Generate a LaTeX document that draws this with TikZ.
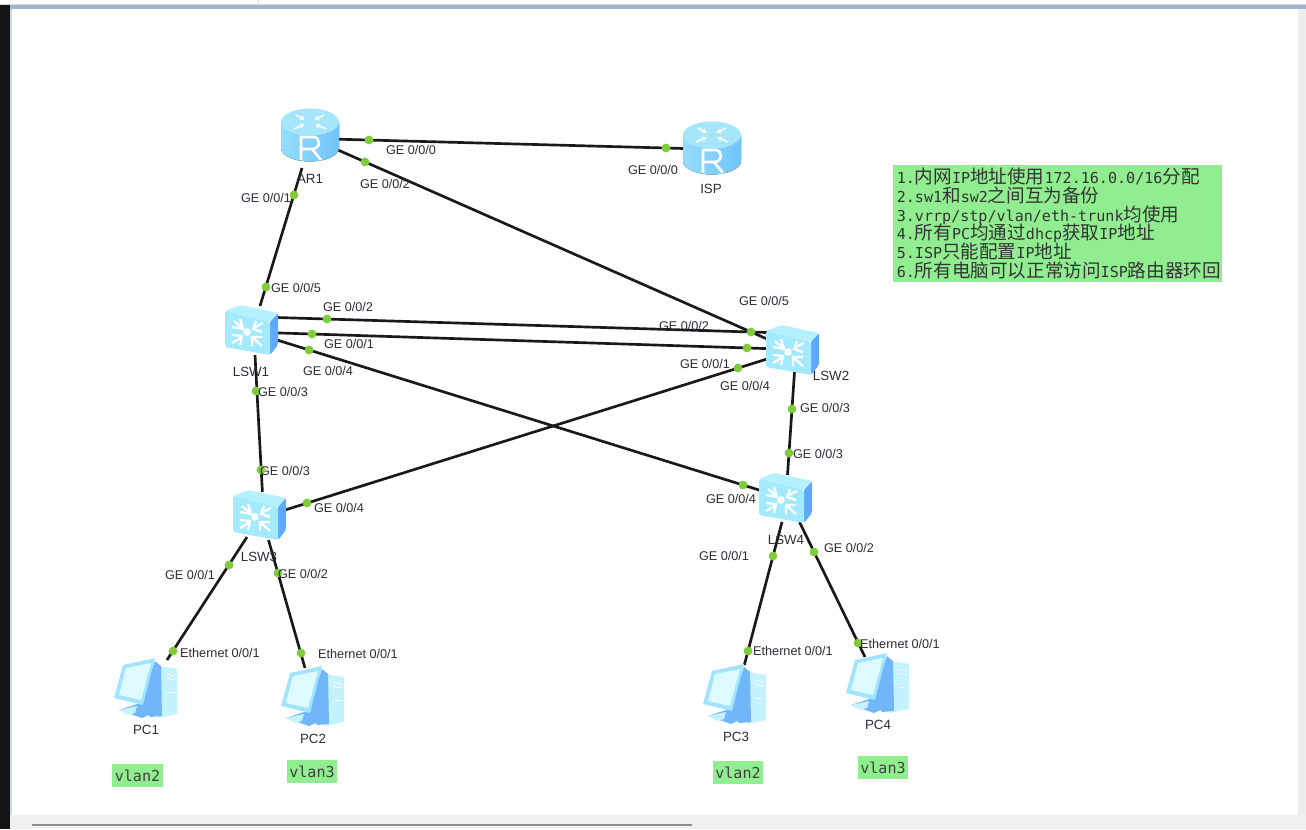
\documentclass[tikz,border=0pt]{standalone}
\usepackage{fontspec}
\setmainfont{Liberation Sans}
\newfontfamily\monof{DejaVu Sans Mono}
\newfontfamily\cjkf{Noto Sans CJK SC}
\newcommand{\zh}[1]{{\cjkf\fontsize{13.93}{14.2}\selectfont #1}}
\usetikzlibrary{arrows.meta}
\definecolor{portgreen}{HTML}{7FCB3A}
\definecolor{notegreen}{HTML}{90EE90}
\definecolor{labelink}{HTML}{2C2C36}
\definecolor{rtop}{HTML}{A6E6FB}
\definecolor{rsidea}{HTML}{93DDFC}
\definecolor{rsideb}{HTML}{72C4FA}
\definecolor{swtop}{HTML}{B5F0FF}
\definecolor{swfront}{HTML}{A4EAFF}
\definecolor{swside}{HTML}{5FA9FB}
\definecolor{pcblue}{HTML}{6FB6FB}
\definecolor{pclight}{HTML}{C4F2FF}
\definecolor{pcscreen}{HTML}{DDFBFF}
\definecolor{pcframe}{HTML}{A2E4FF}
\definecolor{bandblue}{HTML}{9DB5CF}
\tikzset{
  x=0.75pt,y=-0.75pt,
  device/.style={inner sep=0pt,minimum width=40pt,minimum height=32pt},
  link/.style={draw=black!90,line width=2pt},
  port/.style={circle,fill=portgreen,inner sep=0pt,minimum size=6.6pt},
  plabel/.style={font=\fontsize{9.5}{11}\selectfont,text=labelink,inner sep=0pt},
  dlabel/.style={font=\fontsize{10}{12}\selectfont,text=labelink,inner sep=0pt},
  vlanbox/.style={fill=notegreen,inner sep=0pt,minimum width=38pt,minimum height=17pt,font=\monof\fontsize{11.3}{12}\selectfont,text=black!75},
  notebox/.style={fill=notegreen,inner sep=0pt,minimum width=247pt,minimum height=87.5pt,text width=241pt,align=left,font=\monof\fontsize{11.3}{14.2}\selectfont,text=black!80},
  routericon/.pic={
    \fill[left color=rsidea,right color=rsideb] (-29,-13) -- (-29,13) arc[start angle=180,end angle=0,x radius=29,y radius=13.5] -- (29,-13) -- cycle;
    \fill[rtop] (0,-13) ellipse[x radius=29,y radius=13.5];
    \begin{scope}[white,line width=1.3pt,opacity=.85,-{Latex[length=3.5pt,width=4.5pt]}]
      \draw (-14,-20) -- (-5,-15);
      \draw (14,-20) -- (4,-15);
      \draw (-16,-6) -- (-5,-11);
      \draw (16,-6) -- (5,-11);
    \end{scope}
    \draw[white,line width=2pt,line join=miter] (-9,25) -- (-9,2) -- (3,2) .. controls (11,2) and (11,14) .. (2,14) -- (-9,14) (2,14) -- (11,25);
  },
  switchicon/.pic={
    \fill[swside,rounded corners=1.5pt] (18,-9) -- (26,-17) -- (26,15) -- (18,25) -- cycle;
    \fill[swtop,rounded corners=1.5pt] (-27,-19) -- (-12,-25) -- (26,-17) -- (18,-8) -- cycle;
    \fill[swfront,rounded corners=1.5pt] (-27,-19) -- (18,-8) -- (18,25) -- (-27,17) -- cycle;
    \fill[white] (-5,2) circle[radius=3.8];
    \begin{scope}[white,line width=1.7pt]
      \draw (-18,-9) -- (-10,-2) (-12,-11) -- (-9,-1) -- (-20,-3);
      \draw (11,-7) -- (1,-2) (4,-9) -- (1,-1) -- (10,2);
      \draw (-20,13) -- (-10,7) (-12,15) -- (-10,6) -- (-20,5);
      \draw (10,16) -- (1,8) (0,16) -- (0,7) -- (10,7);
    \end{scope}
  },
  pcicon/.pic={
    \fill[pclight] (12,-24) -- (31,-21) -- (31,24) -- (12,28) -- cycle;
    \fill[pcblue] (9,-29) -- (15,-24) -- (16,26) -- (4,27) -- (-6,14) -- cycle;
    \draw[white,line width=.5pt] (20,-16) -- (29,-14) (20,-12) -- (29,-10) (20,2) -- (29,3);
    \fill[pcblue] (-27,20) -- (-9,14) -- (-4,14) -- (7,23) -- (-4,28) -- cycle;
    \fill[pclight] (-27,20) -- (-9,16) -- (-11,23) -- (-18,25) -- cycle;
    \fill[pcframe] (9,-32) -- (-23,-25) -- (-32,8) -- (-3,15) -- cycle;
    \fill[pcscreen] (5,-27) -- (-20,-22) -- (-27,5) -- (-5,10) -- cycle;
  },
}
\begin{document}
\begin{tikzpicture}
\useasboundingbox (0,0) rectangle (1306,829);
% window frame
\fill[white] (0,0) rectangle (1306,829);
\fill[black!92] (0,4) rectangle (10,829);
\fill[black!14] (0,3.5) rectangle (1306,4.5);
\fill[black!14] (258,0) rectangle (259,4);
\fill[bandblue] (10,4.5) rectangle (1306,8.5);
\fill[bandblue!55] (10,8.5) rectangle (11.5,815);
\fill[black!7] (1298,9) rectangle (1306,815);
\fill[black!6] (10,815) rectangle (1306,829);
\fill[black!45] (32,823.5) rectangle (692,826);

% devices (placement)
\node[device] (AR1) at (310,135) {};
\node[device] (ISP) at (712,148) {};
\node[device] (LSW1) at (252,330) {};
\node[device] (LSW2) at (793,350) {};
\node[device] (LSW3) at (260,515) {};
\node[device] (LSW4) at (786,498) {};
\node[device] (PC1) at (146,690) {};
\node[device] (PC2) at (313,698) {};
\node[device] (PC3) at (735,696) {};
\node[device] (PC4) at (878,685) {};

% connectors
\draw[link] ([shift={(28,4.2)}]AR1.center) -- ([shift={(-28,.5)}]ISP.center);
\draw[link] ([shift={(28,15)}]AR1.center) -- ([shift={(-26,-11)}]LSW2.center);
\draw[link] ([shift={(-8,33)}]AR1.center) -- ([shift={(8,-24)}]LSW1.center);
\draw[link] ([shift={(25,-12.5)}]LSW1.center) -- ([shift={(-26,-17.5)}]LSW2.center);
\draw[link] ([shift={(25,2.9)}]LSW1.center) -- ([shift={(-26,-1.4)}]LSW2.center);
\draw[link] ([shift={(25,10)}]LSW1.center) -- ([shift={(-26,-7.7)}]LSW4.center);
\draw[link] ([shift={(3,25)}]LSW1.center) -- ([shift={(2.4,-23)}]LSW3.center);
\draw[link] ([shift={(-26,9)}]LSW2.center) -- ([shift={(25,-5)}]LSW3.center);
\draw[link] ([shift={(1.5,22)}]LSW2.center) -- ([shift={(1.5,-23)}]LSW4.center);
\draw[link] ([shift={(-13,22)}]LSW3.center) -- ([shift={(21,-30)}]PC1.center);
\draw[link] ([shift={(8.5,25)}]LSW3.center) -- ([shift={(-8,-30)}]PC2.center);
\draw[link] ([shift={(-4,24)}]LSW4.center) -- ([shift={(9.3,-31)}]PC3.center);
\draw[link] ([shift={(13.5,24)}]LSW4.center) -- ([shift={(-13,-28)}]PC4.center);

% icons
\pic at (AR1) {routericon};
\pic at (ISP) {routericon};
\pic at (LSW1) {switchicon};
\pic at (LSW2) {switchicon};
\pic at (LSW3) {switchicon};
\pic at (LSW4) {switchicon};
\pic at (PC1) {pcicon};
\pic at (PC2) {pcicon};
\pic at (PC3) {pcicon};
\pic at (PC4) {pcicon};

% port dots
\node[port] (p1) at (369,140) {};
\node[port] (p2) at (666,148) {};
\node[port] (p3) at (365,162) {};
\node[port] (p4) at (294,195) {};
\node[port] (p5) at (266,287) {};
\node[port] (p6) at (327,319) {};
\node[port] (p7) at (312,334) {};
\node[port] (p8) at (309,350) {};
\node[port] (p9) at (256,391) {};
\node[port] (p10) at (261,470) {};
\node[port] (p11) at (307,503) {};
\node[port] (p12) at (229,565) {};
\node[port] (p13) at (278,573) {};
\node[port] (p14) at (173,651) {};
\node[port] (p15) at (301,653) {};
\node[port] (p16) at (751,332) {};
\node[port] (p17) at (747,348) {};
\node[port] (p18) at (738,368) {};
\node[port] (p19) at (792,409) {};
\node[port] (p20) at (789,453) {};
\node[port] (p21) at (743,485) {};
\node[port] (p22) at (773,556) {};
\node[port] (p23) at (814,552) {};
\node[port] (p24) at (748,651) {};
\node[port] (p25) at (858,643) {};

% port labels
\node[plabel] (t1) at (411,150) {GE 0/0/0};
\node[plabel] (t2) at (653,170) {GE 0/0/0};
\node[plabel] (t3) at (385,184) {GE 0/0/2};
\node[plabel] (t4) at (266,198) {GE 0/0/1};
\node[plabel] (t5) at (296,288) {GE 0/0/5};
\node[plabel] (t6) at (348,307) {GE 0/0/2};
\node[plabel] (t7) at (349,344) {GE 0/0/1};
\node[plabel] (t8) at (328,371) {GE 0/0/4};
\node[plabel] (t9) at (283,392) {GE 0/0/3};
\node[plabel] (t10) at (285,471) {GE 0/0/3};
\node[plabel] (t11) at (339,508) {GE 0/0/4};
\node[plabel] (t12) at (190,575) {GE 0/0/1};
\node[plabel] (t13) at (303,574) {GE 0/0/2};
\node[plabel] (t14) at (220,653) {Ethernet 0/0/1};
\node[plabel] (t15) at (358,654) {Ethernet 0/0/1};
\node[plabel] (t16) at (764,301) {GE 0/0/5};
\node[plabel] (t17) at (684,326) {GE 0/0/2};
\node[plabel] (t18) at (705,364) {GE 0/0/1};
\node[plabel] (t19) at (745,386) {GE 0/0/4};
\node[plabel] (t20) at (825,408) {GE 0/0/3};
\node[plabel] (t21) at (818,454) {GE 0/0/3};
\node[plabel] (t22) at (731,499) {GE 0/0/4};
\node[plabel] (t23) at (724,556) {GE 0/0/1};
\node[plabel] (t24) at (849,548) {GE 0/0/2};
\node[plabel] (t25) at (793,651) {Ethernet 0/0/1};
\node[plabel] (t26) at (900,644) {Ethernet 0/0/1};

% device labels
\node[dlabel] (n1) at (310,179) {AR1};
\node[dlabel] (n2) at (711,189) {ISP};
\node[dlabel] (n3) at (251,372) {LSW1};
\node[dlabel] (n4) at (831,376) {LSW2};
\node[dlabel] (n5) at (259,557) {LSW3};
\node[dlabel] (n6) at (786,540) {LSW4};
\node[dlabel] (n7) at (146,730) {PC1};
\node[dlabel] (n8) at (313,739) {PC2};
\node[dlabel] (n9) at (736,737) {PC3};
\node[dlabel] (n10) at (878,725) {PC4};

% notes
\node[vlanbox] (v1) at (137.5,775.5) {vlan2};
\node[vlanbox] (v2) at (312,771.5) {vlan3};
\node[vlanbox] (v3) at (738,772.5) {vlan2};
\node[vlanbox] (v4) at (883,767.5) {vlan3};
\node[notebox] (note) at (1057.5,223.5) {1.\zh{内网}IP\zh{地址使用}172.16.0.0/16\zh{分配}\\
2.sw1\zh{和}sw2\zh{之间互为备份}\\
3.vrrp/stp/vlan/eth-trunk\zh{均使用}\\
4.\zh{所有}PC\zh{均通过}dhcp\zh{获取}IP\zh{地址}\\
5.ISP\zh{只能配置}IP\zh{地址}\\
6.\zh{所有电脑可以正常访问}ISP\zh{路由器环回}};
\end{tikzpicture}
\end{document}
